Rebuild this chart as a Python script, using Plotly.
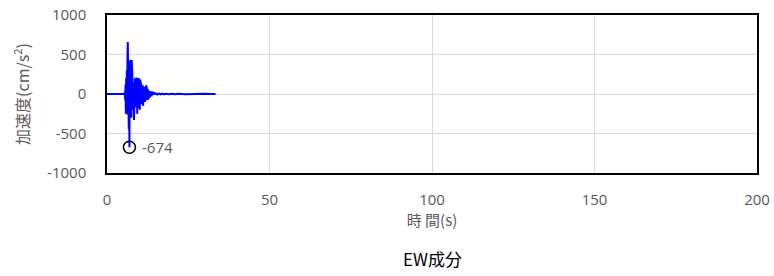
import plotly.graph_objects as go

# time (s)
time_s = [0.0, 5.4,
          5.5, 5.6, 5.7, 5.8, 5.9, 6.0, 6.1, 6.2, 6.3, 6.4,
          6.5, 6.6, 6.7, 6.8, 6.9, 7.0, 7.1, 7.2, 7.3, 7.4,
          7.5, 7.6, 7.7, 7.8, 7.9, 8.0, 8.1, 8.2, 8.3, 8.4,
          8.5, 8.6, 8.7, 8.8, 8.9, 9.0, 9.1, 9.2, 9.3, 9.4,
          9.5, 9.6, 9.7, 9.8, 9.9, 10.0, 10.1, 10.2, 10.3, 10.4,
          10.5, 10.6, 10.7, 10.8, 10.9, 11.0, 11.1, 11.2, 11.3, 11.4,
          11.5, 11.6, 11.7, 11.8, 11.9, 12.0, 12.1, 12.2, 12.3, 12.4,
          12.5, 12.6, 12.7, 12.8, 12.9, 13.0, 13.1, 13.2, 13.3, 13.4,
          13.5, 13.6, 13.7, 13.8, 13.9, 14.0, 14.1, 14.2, 14.3, 14.4,
          14.5, 14.6, 14.7, 14.8, 14.9, 15.0, 15.5, 16.0, 16.5, 17.0,
          17.5, 18.0, 19.0, 20.0, 21.0, 22.0, 24.0, 26.0, 28.0, 30.0,
          32.0, 33.4]

# acceleration (cm/s^2)
accel = [0, 0,
         30, -80, 120, -250, 200, -200, 300, -260, 450, 658,
         -300, 500, -450, 350, -674, 420, -250, 430, -200, 380,
         -300, 430, -150, 250, -200, 150, -120, 120, -330, 180,
         -150, 200, -170, 190, -160, 210, -140, 180, -250, 200,
         -120, 170, -180, 200, -100, 150, -200, 180, -120, 140,
         -90, 120, -130, 100, -80, 110, -150, 80, -70, 90,
         -60, 70, -100, 60, -50, 110, -60, 100, -80, 60,
         -40, 50, -70, 40, -30, 40, -50, 30, -25, 35,
         -20, 25, -30, 20, -15, 20, -12, 15, -10, 12,
         -10, 10, -8, 10, -7, 8, -6, 6, -5, 5,
         -4, 4, -4, 3, -3, 3, -2, 2, -2, 2,
         -1, 0]

peak_time = [6.9]
peak_value = [-674]
peak_label = ["-674"]

x_ticks = [0, 50, 100, 150, 200]
x_tick_text = ["0", "50", "100", "150", "200"]
y_ticks = [-1000, -500, 0, 500, 1000]
y_tick_text = ["-1000", "-500", "0", "500", "1000"]

tick_font = dict(family="Open Sans, Noto Sans CJK JP", size=15, color="#595959")
cjk_font = "Noto Sans CJK JP, Open Sans"

fig = go.Figure()
fig.add_trace(go.Scatter(x=time_s, y=accel, mode="lines",
                         line=dict(color="#0000FF", width=2), showlegend=False))
fig.add_trace(go.Scatter(x=peak_time, y=peak_value, mode="markers",
                         marker=dict(symbol="circle-open", size=12,
                                     color="black", line=dict(width=1.5, color="black")),
                         showlegend=False))

fig.update_layout(
    width=774, height=276,
    margin=dict(l=107, r=17, t=15, b=103, autoexpand=False),
    paper_bgcolor="white", plot_bgcolor="white",
    font=tick_font,
    xaxis=dict(range=[0, 200], tickvals=x_ticks, ticktext=x_tick_text,
               showgrid=True, gridcolor="#D9D9D9",
               gridwidth=1, zeroline=False, showline=True, linecolor="black",
               linewidth=1.5, mirror=True, ticks="", tickfont=tick_font,
               ticklabelstandoff=12, automargin=False,
               title=dict(text="時 間(s)", font=dict(family=cjk_font, size=15, color="#595959"), standoff=0)),
    yaxis=dict(range=[-1000, 1000], tickvals=y_ticks, ticktext=y_tick_text,
               showgrid=True, gridcolor="#D9D9D9",
               gridwidth=1, zeroline=False, showline=True, linecolor="black",
               linewidth=1.5, mirror=True, ticks="", tickfont=tick_font,
               ticklabelstandoff=16, automargin=False,
               title=dict(text="加速度(cm/s<sup>2</sup>)", font=dict(family=cjk_font, size=16, color="#595959"), standoff=14)),
    annotations=[
        dict(text=peak_label[0], x=peak_time[0], y=peak_value[0], xref="x", yref="y",
             xanchor="left", yanchor="middle", xshift=11, showarrow=False, font=tick_font),
        dict(text="EW成分", xref="paper", yref="paper", x=0.5, y=-0.538,
             xanchor="center", yanchor="middle", showarrow=False,
             font=dict(family=cjk_font, size=17, color="black")),
    ],
)

fig.write_html("out.html", config={"displayModeBar": False},
               post_script="document.body.style.margin='0';")
